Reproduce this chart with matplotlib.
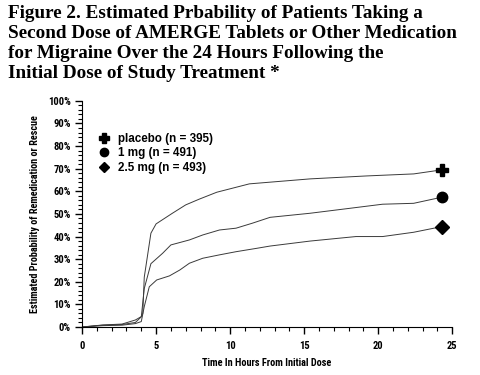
import matplotlib
matplotlib.use('Agg')
from matplotlib import pyplot as plt
from matplotlib.lines import Line2D
from matplotlib.ticker import MultipleLocator, FuncFormatter

# hours since initial dose
hours_pl = [0, 1.4, 2.7, 3.6, 4.0, 4.1, 4.2, 4.65, 5.0, 6.1, 7.0, 7.9, 9.1, 11.3, 15.4, 19.2, 22.4, 24.3]
placebo = [0, 0.9, 1.3, 3.1, 4.6, 6, 22, 41.5, 45.6, 50.3, 54, 56.5, 59.6, 63.3, 65.5, 66.8, 67.7, 69.5]

hours_1 = [0, 1.4, 2.7, 3.6, 4.0, 4.2, 4.65, 5.44, 6.0, 7.25, 8.15, 9.28, 10.4, 11.5, 12.7, 15.4, 18.1, 20.3, 22.4, 24.3]
mg1 = [0, 0.8, 1.1, 2.0, 4.5, 17, 28, 32.6, 36.3, 38.5, 40.7, 42.9, 43.7, 45.9, 48.5, 50.3, 52.5, 54.3, 54.7, 57.4]

hours_25 = [0, 1.4, 2.7, 3.6, 4.0, 4.2, 4.54, 5.04, 5.9, 6.6, 7.25, 8.15, 9.28, 10.4, 11.8, 12.7, 15.4, 18.5, 20.3, 22.4, 24.3]
mg25 = [0, 0.6, 0.8, 1.5, 2.4, 9, 17.8, 20.8, 22.6, 25.2, 28.2, 30.4, 31.9, 33.3, 34.8, 35.8, 38, 40, 40, 41.9, 44.4]

labels = ['placebo (n = 395)', '1 mg (n = 491)', '2.5 mg (n = 493)']
markers = ['P', 'o', 'D']

title = ("Figure 2. Estimated Prbability of Patients Taking a\n"
         "Second Dose of AMERGE Tablets or Other Medication\n"
         "for Migraine Over the 24 Hours Following the\n"
         "Initial Dose of Study Treatment *")

narrow = ['Roboto Condensed', 'DejaVu Sans']

fig = plt.figure(figsize=(4.8, 3.75), dpi=100)
fig.text(0.017, 0.988, title, ha='left', va='top', fontsize=13.8,
         family='Liberation Serif', fontweight='bold', linespacing=1.25)

ax = fig.add_axes([0.171, 0.128, 0.771, 0.603])
series = [(hours_pl, placebo), (hours_1, mg1), (hours_25, mg25)]
end_sizes = [9, 7.5, 7]
for (x, y), m, s in zip(series, markers, end_sizes):
    ax.plot(x, y, color='#3a3a3a', lw=0.7)
    ax.plot(x[-1], y[-1], marker=m, color='black', ms=s, ls='none')

ax.set_xlim(0, 25)
ax.set_ylim(0, 100)
ax.spines['top'].set_visible(False)
ax.spines['right'].set_visible(False)
ax.xaxis.set_major_locator(MultipleLocator(5))
ax.xaxis.set_minor_locator(MultipleLocator(1))
ax.yaxis.set_major_locator(MultipleLocator(10))
ax.yaxis.set_minor_locator(MultipleLocator(2))
ax.yaxis.set_major_formatter(FuncFormatter(lambda v, p: '%d%%' % v))
ax.tick_params(axis='both', which='major', length=5, width=1, labelsize=7.6, direction='out')
ax.tick_params(axis='both', which='minor', length=3, width=0.8, direction='out')
ax.tick_params(axis='x', pad=5)
ax.tick_params(axis='y', pad=3)
for lab in ax.get_xticklabels() + ax.get_yticklabels():
    lab.set_family(narrow)
    lab.set_fontweight('bold')

ax.set_xlabel('Time In Hours From Initial Dose', fontsize=7.4, fontweight='bold', family=narrow, labelpad=5)
ax.set_ylabel('Estimated Probability of Remedication or Rescue', fontsize=7.3, fontweight='bold',
              family=narrow, labelpad=6)

leg_sizes = [7, 6, 5.5]
handles = [Line2D([], [], marker=m, color='black', ls='none', ms=s) for m, s in zip(markers, leg_sizes)]
ax.legend(handles, labels, loc='upper left', bbox_to_anchor=(0.029, 0.884), frameon=False,
          prop={'size': 8.4, 'weight': 'bold', 'family': 'Liberation Sans'},
          handletextpad=0.7, labelspacing=0.2, handlelength=1.0, borderpad=0)

fig.savefig('out.png', dpi=100)
